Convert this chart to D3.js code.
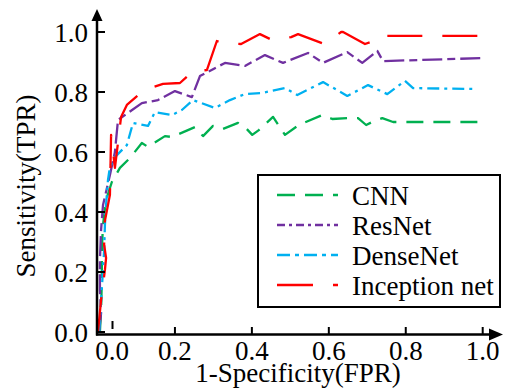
<!DOCTYPE html>
<html><head><meta charset="utf-8">
<script src="https://cdn.jsdelivr.net/npm/d3@7"></script>
<style>
html,body{margin:0;padding:0;background:#fff;}
svg{display:block;}
text{font-family:'Liberation Serif','Times New Roman',Times,'DejaVu Serif',serif;}
</style></head>
<body>
<svg id="c" width="508" height="391"></svg>
<script>
// ---- data ----
const seriesNames = ["CNN", "ResNet", "DenseNet", "Inception net"];
const xTicks = [0.2, 0.4, 0.6, 0.8, 1.0];
const yTicks = [0.0, 0.2, 0.4, 0.6, 0.8, 1.0];

const cnnFpr = [0.005,0.008,0.010,0.010,0.013,0.021,0.036,0.057,0.083,0.114,0.130,0.174,0.192,0.252,0.273,0.299,0.325,0.364,0.382,0.401,0.418,0.455,0.486,0.522,0.583,0.609,0.648,0.676,0.697,0.713,0.739,0.767,0.999];
const cnnTpr = [0.000,0.073,0.173,0.273,0.357,0.440,0.500,0.547,0.580,0.630,0.617,0.653,0.650,0.683,0.653,0.687,0.677,0.697,0.683,0.657,0.673,0.717,0.657,0.690,0.723,0.710,0.713,0.713,0.690,0.700,0.713,0.700,0.700];

const resFpr = [0.003,0.008,0.005,0.005,0.008,0.013,0.031,0.044,0.052,0.114,0.156,0.200,0.244,0.265,0.330,0.382,0.434,0.481,0.546,0.585,0.648,0.687,0.726,0.741,0.999];
const resTpr = [0.000,0.063,0.140,0.240,0.340,0.423,0.523,0.600,0.707,0.763,0.773,0.803,0.783,0.853,0.897,0.887,0.923,0.897,0.930,0.897,0.933,0.897,0.937,0.903,0.913];

const denFpr = [0.003,0.008,0.013,0.016,0.018,0.021,0.026,0.031,0.044,0.075,0.091,0.130,0.148,0.192,0.218,0.247,0.304,0.343,0.382,0.427,0.486,0.518,0.585,0.648,0.702,0.752,0.798,0.819,0.980];
const denTpr = [0.000,0.107,0.207,0.273,0.357,0.423,0.507,0.550,0.583,0.623,0.697,0.687,0.733,0.723,0.740,0.773,0.747,0.773,0.793,0.797,0.813,0.790,0.833,0.787,0.823,0.793,0.837,0.813,0.810];

const incFpr = [0.000,0.008,0.018,0.021,0.016,0.016,0.031,0.034,0.044,0.060,0.075,0.120,0.169,0.213,0.247,0.283,0.309,0.325,0.372,0.421,0.453,0.502,0.520,0.588,0.632,0.637,0.694,0.710,0.728,0.994];
const incTpr = [0.000,0.107,0.207,0.247,0.290,0.357,0.457,0.657,0.547,0.717,0.757,0.807,0.827,0.830,0.870,0.873,0.970,0.963,0.960,0.993,0.973,0.983,0.993,0.960,1.000,1.000,0.960,0.967,0.987,0.987];

const colors = ["#00b050", "#7030a0", "#00b0f0", "#ff0000"];
const dashes = ["17,10", "20,5,8,5", "12,5,3,5", "35,20"];
const legendDashes = ["18,10", "8,4,3,4", "13,5,4,5", "36,20"];

// ---- chart ----
const FONT = "'Liberation Serif', 'Times New Roman', Times, 'DejaVu Serif', serif";
const svg = d3.select("#c");
const x = d3.scaleLinear().domain([0, 1]).range([98, 482.7]);
const y = d3.scaleLinear().domain([0, 1]).range([332, 32]);

const series = [
  {fpr: cnnFpr, tpr: cnnTpr},
  {fpr: resFpr, tpr: resTpr},
  {fpr: denFpr, tpr: denTpr},
  {fpr: incFpr, tpr: incTpr}
];

const line = d3.line().x(d => x(d[0])).y(d => y(d[1]));

series.forEach((s, i) => {
  const pts = s.fpr.map((f, k) => [f, s.tpr[k]]);
  svg.append("path").attr("d", line(pts))
    .attr("fill", "none").attr("stroke", colors[i])
    .attr("stroke-width", 2.3).attr("stroke-dasharray", dashes[i])
    .attr("stroke-linejoin", "round");
});

// axes
const ax = svg.append("g").attr("stroke", "#000");
ax.append("line").attr("x1", 97).attr("x2", 97).attr("y1", 335.5).attr("y2", 18).attr("stroke-width", 2.5);
ax.append("line").attr("x1", 96).attr("x2", 490).attr("y1", 334.5).attr("y2", 334.5).attr("stroke-width", 2.5);
svg.append("path").attr("d", "M97,9 L91.5,21 L102.5,21 Z").attr("fill", "#000");
svg.append("path").attr("d", "M503,334.5 L489,328.5 L489,340.5 Z").attr("fill", "#000");

function txt(xp, yp, s, anchor) {
  return svg.append("text").attr("x", xp).attr("y", yp).attr("text-anchor", anchor || "start")
    .attr("font-family", FONT).attr("font-size", 27).attr("fill", "#000").text(s);
}

// y ticks
yTicks.forEach(t => {
  ax.append("line").attr("x1", 97).attr("x2", 105).attr("y1", y(t)).attr("y2", y(t)).attr("stroke-width", 2);
  txt(88, y(t) + 9.5, t.toFixed(1), "end");
});
// x ticks
xTicks.forEach(t => {
  ax.append("line").attr("x1", x(t)).attr("x2", x(t)).attr("y1", 334).attr("y2", 327).attr("stroke-width", 2);
  txt(x(t), 360, t.toFixed(1), "middle");
});
// displaced 0.0 tick/label on x axis
ax.append("line").attr("x1", 112.5).attr("x2", 112.5).attr("y1", 321).attr("y2", 329).attr("stroke-width", 2);
txt(112, 360, (0).toFixed(1), "middle");

// axis titles
txt(298, 382, "1-Specificity(FPR)", "middle");
txt(0, 0, "Sensitivity(TPR)", "middle").attr("x", null).attr("y", null)
  .attr("transform", "translate(35,186) rotate(-90)");

// legend
svg.append("rect").attr("x", 258).attr("y", 175).attr("width", 242).attr("height", 132)
  .attr("fill", "#fff").attr("stroke", "#000").attr("stroke-width", 2);
seriesNames.forEach((n, i) => {
  const ly = 195 + i * 30;
  svg.append("line").attr("x1", 277).attr("x2", 338).attr("y1", ly).attr("y2", ly)
    .attr("stroke", colors[i]).attr("stroke-width", 2.3).attr("stroke-dasharray", legendDashes[i]);
  txt(352, ly + 10, n);
});
</script>
</body></html>
